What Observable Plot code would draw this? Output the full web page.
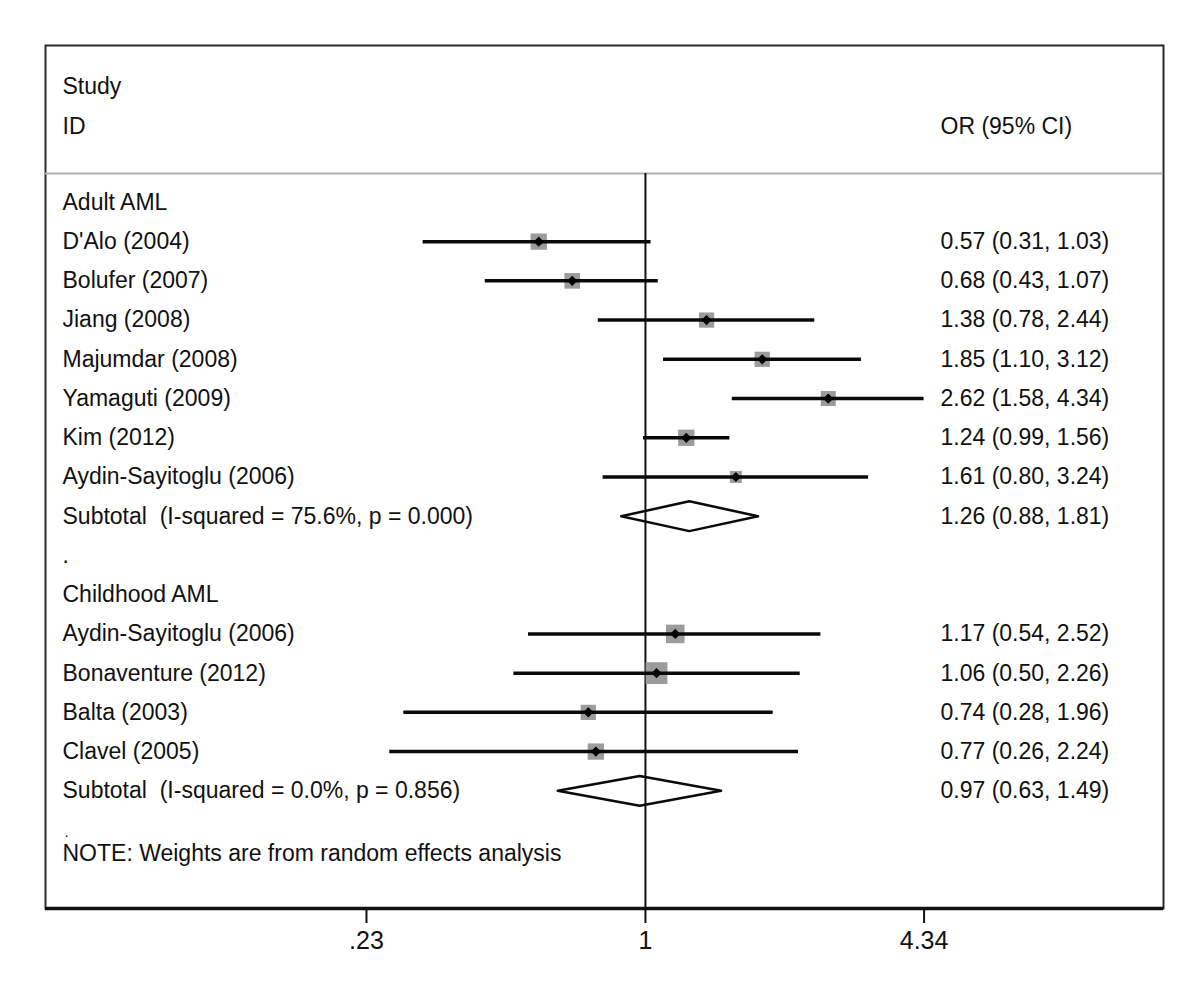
<!DOCTYPE html>
<html>
<head>
<meta charset="utf-8">
<script src="https://cdn.jsdelivr.net/npm/d3@7"></script>
<script src="https://cdn.jsdelivr.net/npm/@observablehq/plot@0.6"></script>
<style>
  html, body { margin: 0; padding: 0; background: #fff; }
  #chart svg { display: block; }
</style>
</head>
<body>
<div id="chart"></div>
<script>
// ---- Data ----
const adultStudies = ["D'Alo (2004)", "Bolufer (2007)", "Jiang (2008)", "Majumdar (2008)", "Yamaguti (2009)", "Kim (2012)", "Aydin-Sayitoglu (2006)"];
const adultOR    = [0.57, 0.68, 1.38, 1.85, 2.62, 1.24, 1.61];
const adultLo    = [0.31, 0.43, 0.78, 1.10, 1.58, 0.99, 0.80];
const adultHi    = [1.03, 1.07, 2.44, 3.12, 4.34, 1.56, 3.24];
const adultWeight = [22.4, 20.5, 19.5, 19.5, 19.0, 22.4, 12.0];
const adultSubtotal = {label: "Subtotal  (I-squared = 75.6%, p = 0.000)", or: 1.26, lo: 0.88, hi: 1.81};

const childStudies = ["Aydin-Sayitoglu (2006)", "Bonaventure (2012)", "Balta (2003)", "Clavel (2005)"];
const childOR    = [1.17, 1.06, 0.74, 0.77];
const childLo    = [0.54, 0.50, 0.28, 0.26];
const childHi    = [2.52, 2.26, 1.96, 2.24];
const childWeight = [29.0, 40.0, 19.5, 22.4];
const childSubtotal = {label: "Subtotal  (I-squared = 0.0%, p = 0.856)", or: 0.97, lo: 0.63, hi: 1.49};

const groupLabels = ["Adult AML", "Childhood AML"];
const axisTicks = [0.23, 1, 4.34];
const axisTickLabels = [".23", "1", "4.34"];
const headerLeft = ["Study", "ID"];
const headerRight = "OR (95% CI)";
const note = "NOTE: Weights are from random effects analysis";

// ---- Build rows ----
const fmt = v => v.toFixed(2);
const studies = [];
const labels = [];
const subtotals = [];
let row = 0;
labels.push({text: groupLabels[0], row: row++});
adultStudies.forEach((s, i) => {
  studies.push({label: s, or: adultOR[i], lo: adultLo[i], hi: adultHi[i], w: adultWeight[i], row});
  labels.push({text: s, row, ci: `${fmt(adultOR[i])} (${fmt(adultLo[i])}, ${fmt(adultHi[i])})`});
  row++;
});
subtotals.push({...adultSubtotal, row});
labels.push({text: adultSubtotal.label, row, ci: `${fmt(adultSubtotal.or)} (${fmt(adultSubtotal.lo)}, ${fmt(adultSubtotal.hi)})`});
row++;
labels.push({text: ".", row: row++});
labels.push({text: groupLabels[1], row: row++});
childStudies.forEach((s, i) => {
  studies.push({label: s, or: childOR[i], lo: childLo[i], hi: childHi[i], w: childWeight[i], row});
  labels.push({text: s, row, ci: `${fmt(childOR[i])} (${fmt(childLo[i])}, ${fmt(childHi[i])})`});
  row++;
});
subtotals.push({...childSubtotal, row});
labels.push({text: childSubtotal.label, row, ci: `${fmt(childSubtotal.or)} (${fmt(childSubtotal.lo)}, ${fmt(childSubtotal.hi)})`});
const lastRow = row;
labels.push({text: note, row: lastRow + 1.6});
const noteDot = [{text: ".", row: lastRow + 1.05}];

const headerRows = [{text: headerLeft[0], row: -2.95}, {text: headerLeft[1], row: -1.93}];
const sepRow = -0.74;
const bottomRow = 18;

// diamond polygons
const diamondPts = [];
subtotals.forEach((s, k) => {
  const h = 0.38;
  [[s.lo, s.row], [s.or, s.row - h], [s.hi, s.row], [s.or, s.row + h], [s.lo, s.row]]
    .forEach(([x, y]) => diamondPts.push({x, y, g: k}));
});

const ciLabels = labels.filter(d => d.ci);

const chart = Plot.plot({
  width: 1200,
  height: 1008,
  marginLeft: 45,
  marginRight: 37,
  marginTop: 45,
  marginBottom: 100,
  style: {fontFamily: "'Liberation Sans', Arial, sans-serif", fontSize: "23px", color: "#111", background: "#fff"},
  x: {type: "log", domain: [0.0424, 15.32], axis: null},
  y: {type: "linear", domain: [bottomRow, -4], axis: null},
  r: {type: "sqrt", domain: [0, 40], range: [0, 12.3]},
  marks: [
    Plot.frame({stroke: "#2a2a2a", strokeWidth: 2}),
    Plot.ruleY([sepRow], {stroke: "#b0b0b0", strokeWidth: 2}),
    Plot.ruleX([1], {y1: sepRow, y2: bottomRow, stroke: "#111", strokeWidth: 2}),
    Plot.ruleY([bottomRow], {stroke: "#111", strokeWidth: 3.5}),
    // weight boxes
    Plot.dot(studies, {x: "or", y: "row", r: "w", symbol: "square", fill: "#9c9c9c", stroke: "none"}),
    // CI lines
    Plot.ruleY(studies, {y: "row", x1: "lo", x2: "hi", stroke: "#0a0a0a", strokeWidth: 3.5}),
    // point estimates
    Plot.dot(studies, {x: "or", y: "row", symbol: "diamond2", r: 4.6, fill: "#000", stroke: "none"}),
    // subtotal diamonds
    Plot.line(diamondPts, {x: "x", y: "y", z: "g", stroke: "#0a0a0a", strokeWidth: 2.5, fill: "none", curve: "linear"}),
    // header
    Plot.text(headerRows, {y: "row", text: "text", frameAnchor: "left", dx: 17, textAnchor: "start", lineAnchor: "middle", fill: "#111", fontSize: 23}),
    Plot.text([{text: headerRight, row: -1.93}], {y: "row", text: "text", frameAnchor: "right", dx: -223, textAnchor: "start", lineAnchor: "middle", fill: "#111", fontSize: 23}),
    // row labels
    Plot.text(labels, {y: "row", text: "text", frameAnchor: "left", dx: 17, textAnchor: "start", lineAnchor: "middle", fill: "#111", fontSize: 23}),
    Plot.text(noteDot, {y: "row", text: "text", frameAnchor: "left", dx: 19, textAnchor: "start", lineAnchor: "middle", fill: "#111", fontSize: 15}),
    Plot.text(ciLabels, {y: "row", text: "ci", frameAnchor: "right", dx: -223, textAnchor: "start", lineAnchor: "middle", fill: "#111", fontSize: 23}),
    // axis
    Plot.axisX(axisTicks, {
      anchor: "bottom",
      tickSize: 15,
      tickPadding: 8,
      tickFormat: d => axisTickLabels[axisTicks.indexOf(d)],
      fontSize: 25,
      stroke: "#111",
      fill: "#111",
      strokeWidth: 2,
      label: null
    })
  ]
});
document.getElementById("chart").appendChild(chart);
</script>
</body>
</html>
